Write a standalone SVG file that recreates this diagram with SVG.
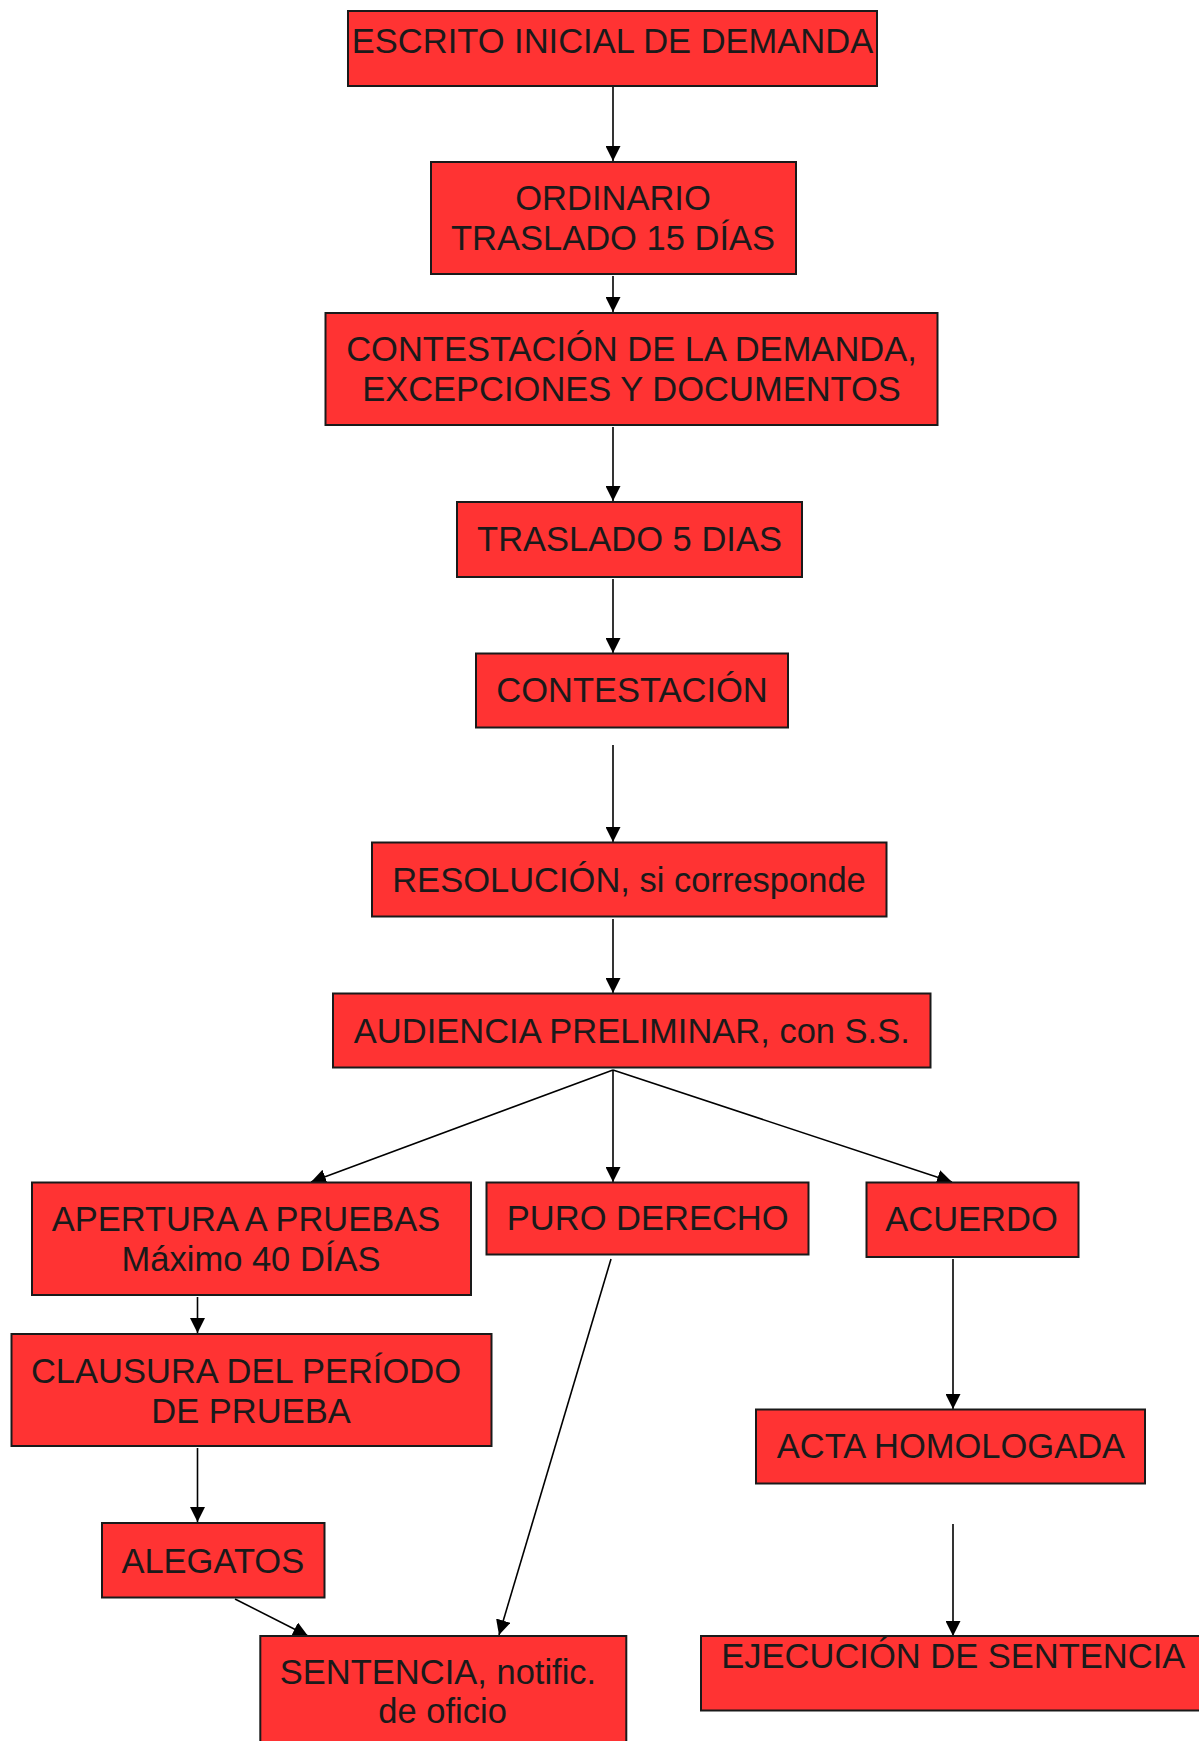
<svg xmlns="http://www.w3.org/2000/svg" width="1199" height="1741" viewBox="0 0 1199 1741">
<defs>
<style>
.box{fill:#ff3333;stroke:#1a1a1a;stroke-width:2}
.t{font-family:"Liberation Sans",Arial,sans-serif;font-size:34.5px;fill:#1a1a1a;text-anchor:middle}
.c{stroke:#000;stroke-width:1.6;fill:none;marker-end:url(#ah)}
</style>
<marker id="ah" markerUnits="userSpaceOnUse" markerWidth="15" markerHeight="15" refX="15" refY="7.5" orient="auto">
<path d="M0,0 L15,7.5 L0,15 z" fill="#000"/>
</marker>
</defs>
<rect width="1199" height="1741" fill="#fff"/>
<g id="connectors">
<line class="c" x1="613" y1="86" x2="613" y2="161"/>
<line class="c" x1="613" y1="276" x2="613" y2="312"/>
<line class="c" x1="613" y1="427" x2="613" y2="501"/>
<line class="c" x1="613" y1="579" x2="613" y2="653"/>
<line class="c" x1="613" y1="745" x2="613" y2="842"/>
<line class="c" x1="613" y1="919" x2="613" y2="993"/>
<line class="c" x1="613" y1="1070" x2="311" y2="1182"/>
<line class="c" x1="613" y1="1070" x2="613" y2="1182"/>
<line class="c" x1="613" y1="1070" x2="952" y2="1182"/>
<line class="c" x1="197.5" y1="1297" x2="197.5" y2="1333"/>
<line class="c" x1="611" y1="1259" x2="499" y2="1635"/>
<line class="c" x1="953" y1="1259" x2="953" y2="1409"/>
<line class="c" x1="197.5" y1="1448" x2="197.5" y2="1522"/>
<line class="c" x1="235" y1="1599" x2="308" y2="1636"/>
<line class="c" x1="953" y1="1524" x2="953" y2="1636"/>
</g>
<g id="n1"><rect class="box" x="348" y="11" width="529" height="75"/><text class="t" x="612.5" y="53">ESCRITO INICIAL DE DEMANDA</text></g>
<g id="n2"><rect class="box" x="431" y="162" width="365" height="112"/><text class="t" x="613" y="210">ORDINARIO</text><text class="t" x="613" y="250">TRASLADO 15 DÍAS</text></g>
<g id="n3"><rect class="box" x="325.5" y="313" width="612" height="112"/><text class="t" x="631.5" y="361">CONTESTACIÓN DE LA DEMANDA,</text><text class="t" x="631.5" y="401">EXCEPCIONES Y DOCUMENTOS</text></g>
<g id="n4"><rect class="box" x="457" y="502" width="345" height="75"/><text class="t" x="629.5" y="551">TRASLADO 5 DIAS</text></g>
<g id="n5"><rect class="box" x="476" y="653.5" width="312" height="74"/><text class="t" x="632" y="702">CONTESTACIÓN</text></g>
<g id="n6"><rect class="box" x="372" y="842.5" width="514.5" height="74"/><text class="t" x="629" y="891.7">RESOLUCIÓN, si corresponde</text></g>
<g id="n7"><rect class="box" x="333" y="993.5" width="597.5" height="74"/><text class="t" x="631.8" y="1042.7">AUDIENCIA PRELIMINAR, con S.S.</text></g>
<g id="n8"><rect class="box" x="32" y="1182.5" width="439" height="112.5"/><text class="t" x="246" y="1231">APERTURA A PRUEBAS</text><text class="t" x="251" y="1271">Máximo 40 DÍAS</text></g>
<g id="n9"><rect class="box" x="486.5" y="1182.5" width="322" height="72"/><text class="t" x="647.7" y="1230">PURO DERECHO</text></g>
<g id="n10"><rect class="box" x="866.5" y="1182.5" width="212" height="74.5"/><text class="t" x="971.5" y="1231">ACUERDO</text></g>
<g id="n11"><rect class="box" x="11.5" y="1334" width="480" height="112"/><text class="t" x="246" y="1382.7">CLAUSURA DEL PERÍODO</text><text class="t" x="251" y="1422.7">DE PRUEBA</text></g>
<g id="n12"><rect class="box" x="756" y="1409.5" width="389" height="74"/><text class="t" x="951" y="1458">ACTA HOMOLOGADA</text></g>
<g id="n13"><rect class="box" x="102" y="1523" width="222.5" height="74.5"/><text class="t" x="212.8" y="1572.7">ALEGATOS</text></g>
<g id="n14"><rect class="box" x="260.3" y="1636" width="366" height="112"/><text class="t" x="438" y="1684.3">SENTENCIA, notific.</text><text class="t" x="442.6" y="1723.3">de oficio</text></g>
<g id="n15"><rect class="box" x="701" y="1636" width="520" height="74.5"/><text class="t" x="953.3" y="1667.7">EJECUCIÓN DE SENTENCIA</text></g>
</svg>
